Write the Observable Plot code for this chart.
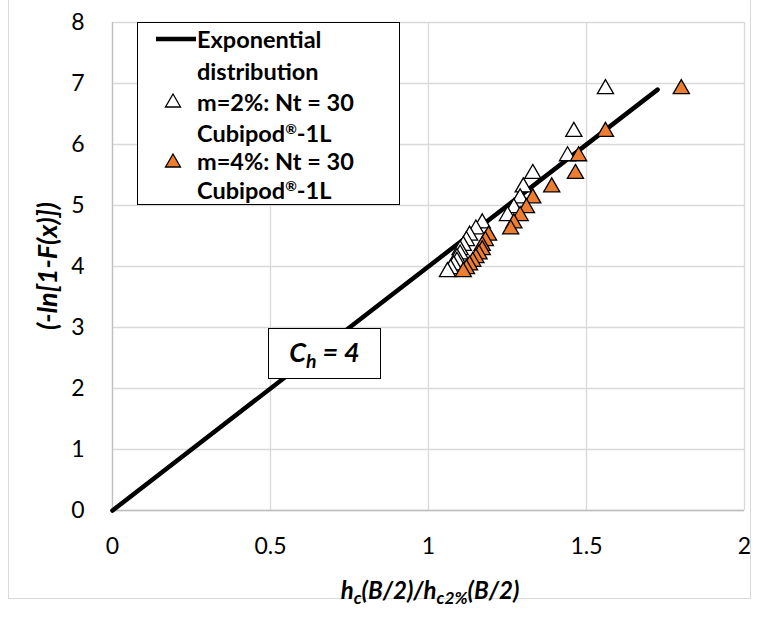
<!DOCTYPE html>
<html><head><meta charset="utf-8">
<script src="https://cdn.jsdelivr.net/npm/d3@7"></script>
<script src="https://cdn.jsdelivr.net/npm/@observablehq/plot@0.6"></script>
<style>
html,body{margin:0;padding:0;background:#fff;}
#wrap{position:relative;width:757px;height:622px;font-family:Lato,"Open Sans",sans-serif;color:#000;}
#border{position:absolute;left:8px;top:-1px;width:743px;height:600px;border:1px solid #d9d9d9;box-sizing:border-box;pointer-events:none;}
#legend{position:absolute;left:137px;top:22px;width:263px;height:183px;border:1.5px solid #000;background:#fff;box-sizing:border-box;font-weight:bold;font-size:23.5px;}
#legend .t{position:absolute;left:59px;line-height:22px;height:22px;}
#legend sup{font-size:0.6em;line-height:0;vertical-align:0.6em;}
#chbox{position:absolute;left:268px;top:328px;width:113px;height:51px;border:1.5px solid #000;background:#fff;box-sizing:border-box;font-weight:bold;font-style:italic;font-size:27px;text-align:center;line-height:46px;}
#ylab{position:absolute;left:46px;top:266px;transform:translate(-50%,-50%) rotate(-90deg);font-weight:bold;font-style:italic;font-size:27px;white-space:nowrap;}
#xlab{position:absolute;left:430px;top:589px;transform:translate(-50%,-50%);font-weight:bold;font-style:italic;font-size:24px;white-space:nowrap;}
sub{font-size:0.72em;vertical-align:-0.3em;line-height:0;}
</style></head>
<body>
<div id="wrap">
<div id="plot"></div>
<div id="border"></div>
<div id="legend">
  <svg width="260" height="180" style="position:absolute;left:0;top:0">
    <line x1="18" y1="16" x2="58" y2="16" stroke="#000" stroke-width="4.5"/>
    <path d="M35,71 L42.5,84 L27.5,84 Z" fill="#fff" stroke="#000" stroke-width="1.3"/>
    <path d="M35,131 L42.5,144 L27.5,144 Z" fill="#ed7d31" stroke="#000" stroke-width="1.3"/>
  </svg>
  <div class="t" style="top:5px">Exponential</div>
  <div class="t" style="top:37px">distribution</div>
  <div class="t" style="top:68px">m=2%: Nt = 30</div>
  <div class="t" style="top:99px">Cubipod<sup>®</sup>-1L</div>
  <div class="t" style="top:127px">m=4%: Nt = 30</div>
  <div class="t" style="top:156px">Cubipod<sup>®</sup>-1L</div>
</div>
<div id="chbox">C<sub>h</sub> = 4</div>
<div id="ylab">(-ln[1-F(x)])</div>
<div id="xlab">h<sub>c</sub>(B/2)/h<sub>c2%</sub>(B/2)</div>
</div>
<script>
// data
const yRank = [6.91, 6.21, 5.81, 5.52, 5.30, 5.12, 4.96, 4.83, 4.71, 4.61, 4.51, 4.42, 4.34, 4.27, 4.20, 4.14, 4.08, 4.02, 3.96, 3.91];
const xM2 = [1.56, 1.46, 1.44, 1.33, 1.30, 1.29, 1.27, 1.25, 1.17, 1.15, 1.13, 1.12, 1.11, 1.10, 1.10, 1.09, 1.09, 1.08, 1.07, 1.06];
const xM4 = [1.80, 1.56, 1.475, 1.465, 1.39, 1.33, 1.31, 1.29, 1.27, 1.26, 1.19, 1.18, 1.17, 1.17, 1.16, 1.15, 1.14, 1.13, 1.12, 1.11];
const expX = [0, 1.725];
const expY = [0, 6.9];
const xTicks = [0, 0.5, 1, 1.5, 2];
const yTicks = [0, 1, 2, 3, 4, 5, 6, 7, 8];

const m2 = xM2.map((x, i) => ({x, y: yRank[i]}));
const m4 = xM4.map((x, i) => ({x, y: yRank[i]}));
const expo = expX.map((x, i) => ({x, y: expY[i]}));

const chart = Plot.plot({
  width: 757, height: 622,
  marginLeft: 112, marginRight: 13, marginTop: 22, marginBottom: 112,
  style: {fontFamily: "Lato, 'Open Sans', sans-serif", fontSize: "22px", background: "transparent", color: "#000"},
  x: {domain: [0, 2]},
  y: {domain: [0, 8]},
  marks: [
    Plot.gridX(xTicks, {stroke: "#d9d9d9", strokeOpacity: 1, strokeWidth: 1.3}),
    Plot.gridY(yTicks, {stroke: "#d9d9d9", strokeOpacity: 1, strokeWidth: 1.3}),
    Plot.ruleX([0], {stroke: "#bfbfbf", strokeWidth: 1.3}),
    Plot.ruleY([0], {stroke: "#bfbfbf", strokeWidth: 1.3}),
    Plot.axisX(xTicks, {tickSize: 0, tickPadding: 27, label: null, fontSize: 23, tickFormat: d => String(d)}),
    Plot.axisY(yTicks, {tickSize: 0, tickPadding: 28, label: null, fontSize: 23, tickFormat: d => String(d)}),
    Plot.line(expo, {x: "x", y: "y", stroke: "#000", strokeWidth: 4.5}),
    Plot.dot(m2, {x: "x", y: "y", symbol: "triangle", r: 6, fill: "#fff", stroke: "#000", strokeWidth: 1.3}),
    Plot.dot(m4, {x: "x", y: "y", symbol: "triangle", r: 6, fill: "#ed7d31", stroke: "#000", strokeWidth: 1.3})
  ]
});
document.getElementById("plot").appendChild(chart);
</script>
</body></html>
